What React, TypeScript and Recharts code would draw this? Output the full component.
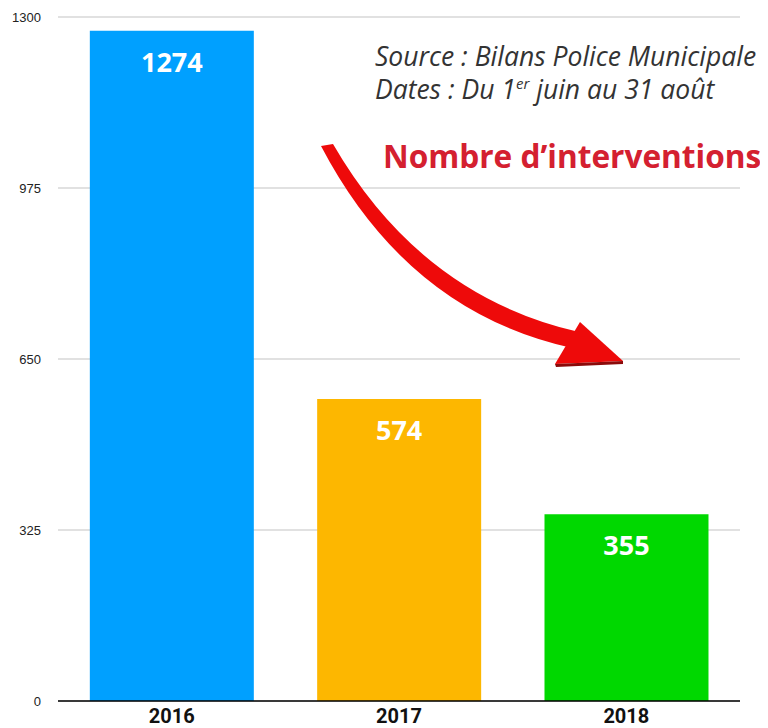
import React from "react";
import { BarChart, Bar, XAxis, YAxis, CartesianGrid, Cell, LabelList } from "recharts";

const years = ["2016", "2017", "2018"];
const interventions = [1274, 574, 355];
const barColors = ["#00A0FF", "#FDB700", "#00D800"];
const yTicks = [0, 325, 650, 975, 1300];

const data = years.map((y, i) => ({ year: y, value: interventions[i] }));

export default function App() {
  return (
    <div style={{ position: "relative", width: 760, height: 720 }}>
      <BarChart
        width={760}
        height={720}
        data={data}
        margin={{ top: 9, right: 28, left: 0, bottom: 0 }}
        barCategoryGap="14%"
      >
        <CartesianGrid vertical={false} stroke="#c4c4c4" strokeWidth={1.2} />
        <XAxis
          dataKey="year"
          height={27}
          tickLine={false}
          axisLine={{ stroke: "#000", strokeWidth: 1.5 }}
          tickMargin={2}
          tick={{ fill: "#111", fontSize: 20, fontWeight: 700, fontFamily: "Roboto" }}
        />
        <YAxis
          width={50}
          domain={[0, 1300]}
          ticks={yTicks}
          tickLine={false}
          axisLine={false}
          tickSize={0}
          tickMargin={17}
          tick={{ fill: "#222", fontSize: 13, fontFamily: "Liberation Sans, Arial" }}
        />
        <Bar dataKey="value" isAnimationActive={false}>
          {data.map((d, i) => (
            <Cell key={d.year} fill={barColors[i]} />
          ))}
          <LabelList
            dataKey="value"
            position="insideTop"
            offset={22}
            fill="#fff"
            style={{ fontSize: 27, fontWeight: 700, fontFamily: "Open Sans" }}
          />
        </Bar>
      </BarChart>
      <svg
        width={760}
        height={720}
        style={{ position: "absolute", left: 0, top: 0, pointerEvents: "none" }}
      >
        <g transform="translate(-8,-8)">
          <text x={375} y={66} fontFamily="Open Sans" fontStyle="italic" fontSize={26.5} fill="#333">
            Source : Bilans Police Municipale
          </text>
          <text x={375} y={99} fontFamily="Open Sans" fontStyle="italic" fontSize={26.5} fill="#333">
            Dates : Du 1<tspan fontSize={15} dy={-10}>er</tspan>
            <tspan dy={10}> juin au 31 août</tspan>
          </text>
          <text x={383} y={168} fontFamily="Open Sans" fontWeight={700} fontSize={31.6} fill="#D42030">
            Nombre d’interventions
          </text>
          <path
            d="M 333 144 Q 421 296 579 332 L 572 348 Q 408 312 321 146 Z"
            fill="#EE0A0A"
          />
          <path d="M 580 322 L 623 361 L 555 364 Z" fill="#EE0A0A" />
          <path d="M 555 364 L 623 361 L 623 364 L 556 367 Z" fill="#8B0A0A" />
        </g>
      </svg>
    </div>
  );
}
